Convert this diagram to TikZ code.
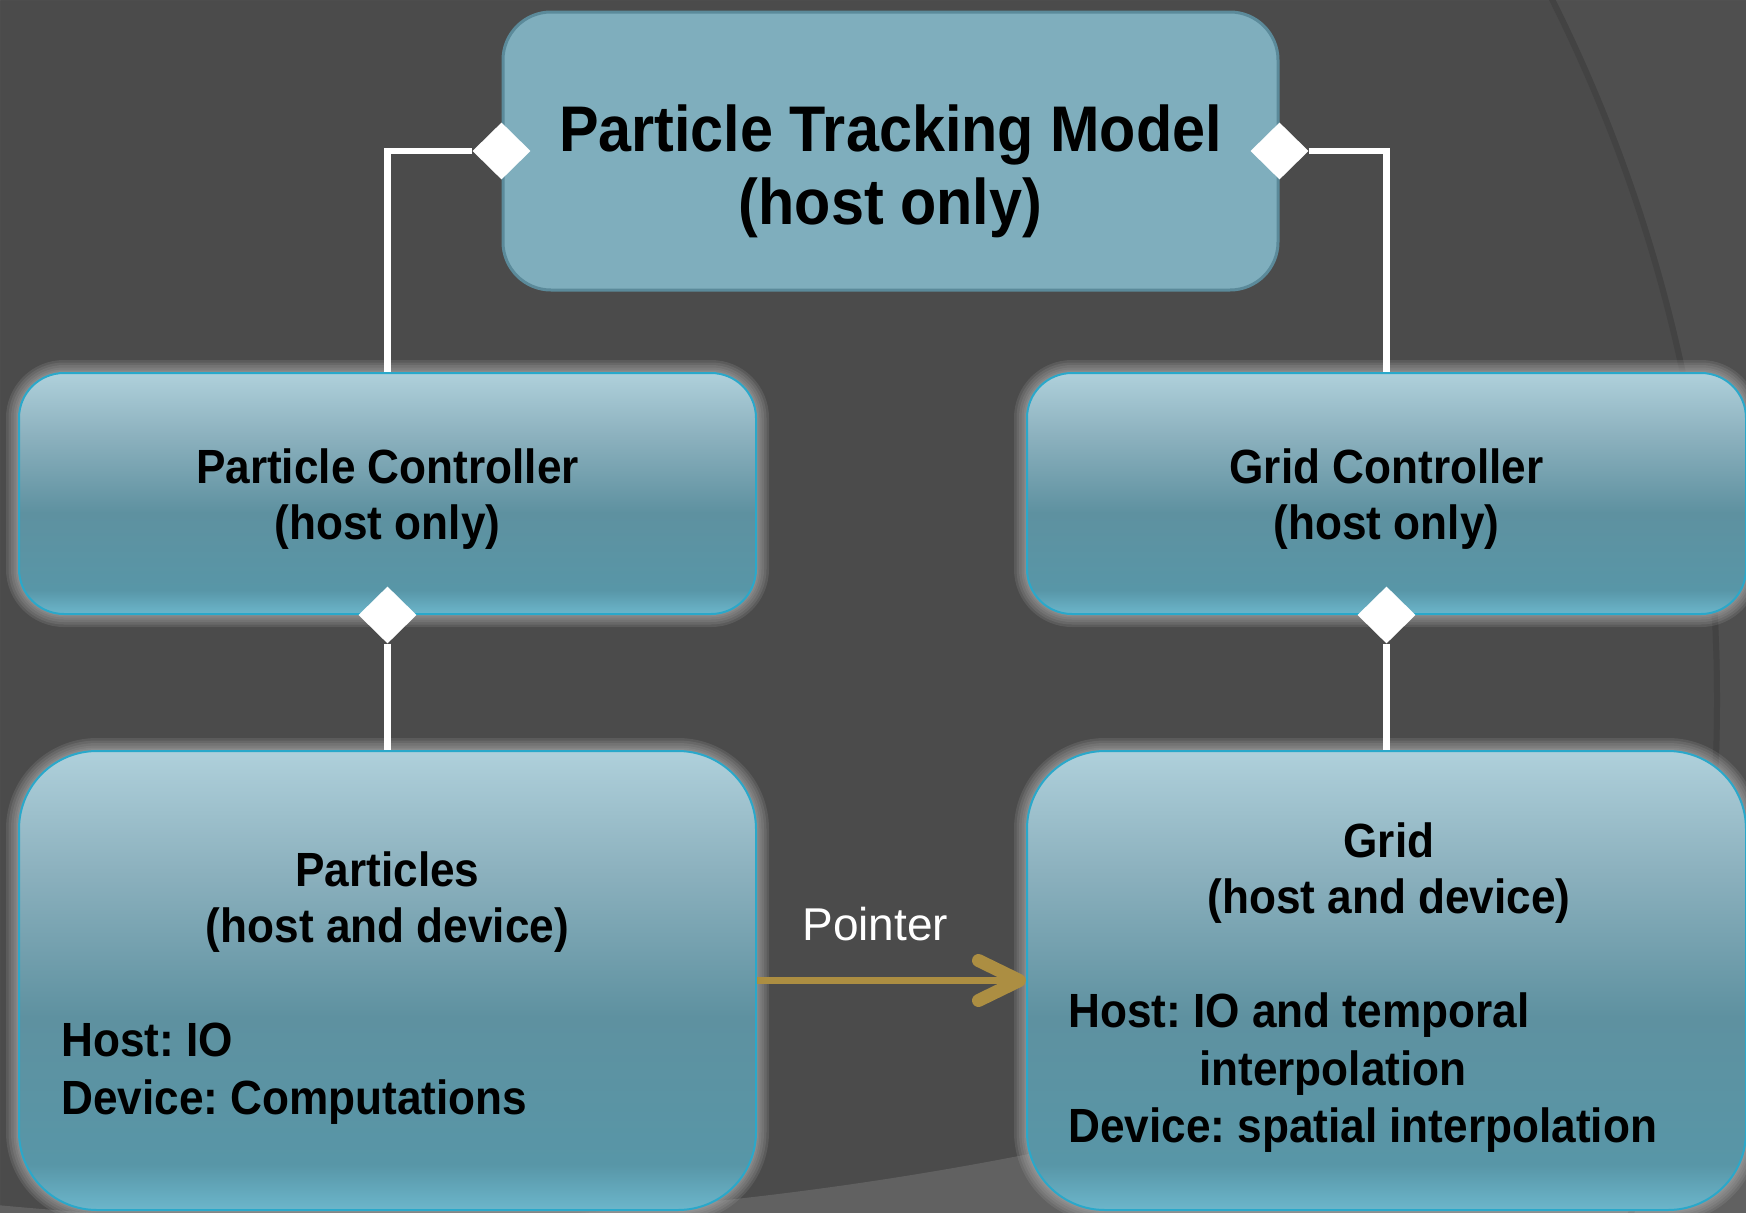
\documentclass[tikz,border=0pt]{standalone}
\usepackage{fontspec}
\newfontfamily\boxfont[FakeStretch=0.92]{Liberation Sans}
\newfontfamily\tagfont{Liberation Sans}
\usetikzlibrary{positioning, shapes.geometric, arrows.meta, calc}
\frenchspacing

\definecolor{slide}{HTML}{4B4B4B}
\definecolor{slideright}{HTML}{4F4F4F}
\definecolor{slidelow}{HTML}{616161}
\definecolor{slideline}{HTML}{434343}
\definecolor{modelfill}{HTML}{7FAEBD}
\definecolor{modeledge}{HTML}{5B8A9A}
\definecolor{boxedge}{HTML}{2AA8CA}
\definecolor{glow}{HTML}{B0B0B0}
\definecolor{pointergold}{HTML}{AC8E42}
\definecolor{shtop}{HTML}{AFD0DB}
\definecolor{shupper}{HTML}{8CB1BE}
\definecolor{shmid}{HTML}{5E91A0}
\definecolor{shlow}{HTML}{5896A7}
\definecolor{shbot}{HTML}{6CB6CB}

\pgfdeclareverticalshading{boxshade}{100bp}{color(0bp)=(shbot); color(25bp)=(shbot);
  color(30bp)=(shlow); color(46bp)=(shmid); color(62bp)=(shupper);
  color(75bp)=(shtop); color(100bp)=(shtop)}

\begin{document}
\begin{tikzpicture}[x=1pt, y=1pt,
  model/.style={draw=modeledge, line width=3pt, fill=modelfill, rounded corners=48pt,
    minimum width=775pt, minimum height=278pt, inner sep=0pt},
  unit/.style={draw=boxedge, line width=2pt, shading=boxshade, rounded corners=#1,
    inner sep=0pt, halo},
  halo/.style={preaction={draw=glow, line width=26pt, draw opacity=0.16},
    preaction={draw=glow, line width=21pt, draw opacity=0.16},
    preaction={draw=glow, line width=16pt, draw opacity=0.16},
    preaction={draw=glow, line width=11pt, draw opacity=0.16},
    preaction={draw=glow, line width=7pt, draw opacity=0.16},
    preaction={draw=glow, line width=4pt, draw opacity=0.16}},
  knob/.style={diamond, aspect=1, fill=white, inner sep=0pt,
    minimum width=58pt, minimum height=57pt},
  link/.style={draw=white, line width=6.5pt},
  pointer/.style={draw=pointergold, line width=7pt,
    -{Straight Barb[length=41pt, width=40pt, line width=13pt, round]}},
  bigtitle/.style={font=\boxfont\bfseries\fontsize{64.5}{73}\selectfont, align=center, inner sep=0pt},
  title/.style={font=\boxfont\bfseries\fontsize{48}{56}\selectfont, align=center, inner sep=0pt},
  detail/.style={font=\boxfont\bfseries\fontsize{48}{57.5}\selectfont, align=left, inner sep=0pt, anchor=west},
  tag/.style={font=\tagfont\fontsize{46}{50}\selectfont, text=white, inner sep=0pt}
]
\useasboundingbox (0,0) rectangle (1746,-1213);

% Slide background
\fill[slide] (0,0) rectangle (1746,-1213);
\begin{scope}
  \clip (0,0) rectangle (1746,-1213);
  \fill[slideright, even odd rule] (0,0) rectangle (1746,-1213) (150,-700) circle[radius=1570];
  \fill[slidelow, even odd rule] (0,0) rectangle (1746,-1213) (337,2349) circle[radius=3570];
  \draw[slideline, line width=6pt] (150,-700) circle[radius=1567];
\end{scope}

% Boxes
\node[model] (TM) at (890.5,-151) {};
\node[unit=45pt, minimum width=737pt, minimum height=241pt] (PC) at (387.5,-493.5) {};
\node[unit=45pt, minimum width=719pt, minimum height=241pt, right=269pt of PC] (GC) {};
\node[unit=78pt, minimum width=737pt, minimum height=459pt, below=135pt of PC] (PT) {};
\node[unit=78pt, minimum width=719pt, minimum height=459pt, below=135pt of GC] (GD) {};

% Composition diamonds
\node[knob] (k1) at (TM.west) {};
\node[knob] (k2) at (TM.east) {};
\node[knob] (k3) at (PC.south) {};
\node[knob] (k4) at (GC.south) {};

% Links
\draw[link] (k1.west) -| (PC.north);
\draw[link] (k2.east) -| (GC.north);
\draw[link] (k3.south) -- (PT.north);
\draw[link] (k4.south) -- (GD.north);

% Box texts
\node[bigtitle] (tTM) at ([yshift=-20.5pt]TM.center) {Particle Tracking Model\\(host only)};
\node[title] (tPC) at ([yshift=-6pt]PC.center) {Particle Controller\\(host only)};
\node[title] (tGC) at ([yshift=-6pt]GC.center) {Grid Controller\\(host only)};
\node[title] (tPT) at ([yshift=78pt]PT.center) {Particles\\(host and device)};
\node[detail] (dPT) at ([xshift=43pt, yshift=-93pt]PT.west) {Host: IO\\Device: Computations};
\node[title] (tGD) at ([xshift=2.5pt, yshift=107pt]GD.center) {Grid\\(host and device)};
\node[detail] (dGD) at ([xshift=42pt, yshift=-92.5pt]GD.west)
  {Host: IO and temporal\\\hspace*{131pt}interpolation\\Device: spatial interpolation};

% Pointer
\draw[pointer] (PT.east) -- (GD.west) node[tag, pos=0.44, above=36pt] (ptr) {Pointer};

\end{tikzpicture}
\end{document}
